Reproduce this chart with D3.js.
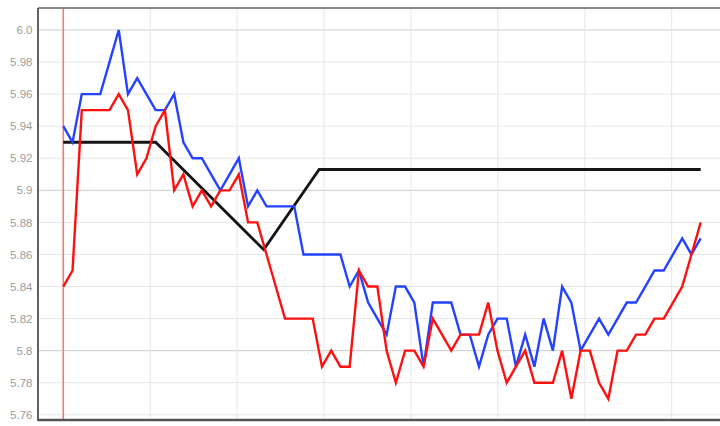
<!DOCTYPE html>
<html>
<head>
<meta charset="utf-8">
<script src="https://cdn.jsdelivr.net/npm/d3@7/dist/d3.min.js"></script>
<style>
    html, body { margin: 0; padding: 0; background: #fff; overflow: hidden; }
    svg { display: block; font-family: "Liberation Sans", Arial, sans-serif; }
    .tick-label { fill: #9c9c9c; font-size: 11.5px; }
</style>
</head>
<body>
<svg id="chart"></svg>
<script>
// values, one point per step
const blueSeries = [
    5.94, 5.93, 5.96, 5.96, 5.96, 5.98, 6.00, 5.96, 5.97, 5.96,
    5.95, 5.95, 5.96, 5.93, 5.92, 5.92, 5.91, 5.90, 5.91, 5.92,
    5.89, 5.90, 5.89, 5.89, 5.89, 5.89, 5.86, 5.86, 5.86, 5.86,
    5.86, 5.84, 5.85, 5.83, 5.82, 5.81, 5.84, 5.84, 5.83, 5.79,
    5.83, 5.83, 5.83, 5.81, 5.81, 5.79, 5.81, 5.82, 5.82, 5.79,
    5.81, 5.79, 5.82, 5.80, 5.84, 5.83, 5.80, 5.81, 5.82, 5.81,
    5.82, 5.83, 5.83, 5.84, 5.85, 5.85, 5.86, 5.87, 5.86, 5.87
];
const redSeries = [
    5.84, 5.85, 5.95, 5.95, 5.95, 5.95, 5.96, 5.95, 5.91, 5.92,
    5.94, 5.95, 5.90, 5.91, 5.89, 5.90, 5.89, 5.90, 5.90, 5.91,
    5.88, 5.88, 5.86, 5.84, 5.82, 5.82, 5.82, 5.82, 5.79, 5.80,
    5.79, 5.79, 5.85, 5.84, 5.84, 5.80, 5.78, 5.80, 5.80, 5.79,
    5.82, 5.81, 5.80, 5.81, 5.81, 5.81, 5.83, 5.80, 5.78, 5.79,
    5.80, 5.78, 5.78, 5.78, 5.80, 5.77, 5.80, 5.80, 5.78, 5.77,
    5.80, 5.80, 5.81, 5.81, 5.82, 5.82, 5.83, 5.84, 5.86, 5.88
];
// black level line only has a few corners
const blackSteps = [0, 10, 21.7, 27.7, 69];
const blackValues = [5.93, 5.93, 5.863, 5.913, 5.913];

const yTickValues = [5.76, 5.78, 5.8, 5.82, 5.84, 5.86, 5.88, 5.9, 5.92, 5.94, 5.96, 5.98, 6.0];
const yTickLabels = ['5.76', '5.78', '5.8', '5.82', '5.84', '5.86', '5.88', '5.9', '5.92', '5.94', '5.96', '5.98', '6.0'];
const yMajor = [5.8, 5.9, 6.0];
const xTickValues = [0, 10, 20, 30, 40, 50, 60, 70];

(function() {
    const width = 720, height = 426;
    const left = 38, top = 8, bottom = 420;

    const svg = d3.select('#chart').attr('width', width).attr('height', height);

    const y = d3.scaleLinear().domain([5.76, 6.0]).range([414.8, 30]);
    const x = d3.scaleLinear().domain([0, blueSeries.length - 1]).range([63.3, 700.7]);
    const xAxisScale = d3.scaleLinear().domain([0, 70]).range([63.3, 671.7]);

    // horizontal grid
    svg.append('g').selectAll('line').data(yTickValues).enter().append('line')
        .attr('x1', left).attr('x2', width)
        .attr('y1', d => y(d)).attr('y2', d => y(d))
        .attr('stroke', d => yMajor.some(m => Math.abs(m - d) < 1e-9) ? '#cccccc' : '#e6e6e6')
        .attr('stroke-width', 1);

    // vertical grid
    svg.append('g').selectAll('line').data(xTickValues.slice(1)).enter().append('line')
        .attr('x1', d => xAxisScale(d)).attr('x2', d => xAxisScale(d))
        .attr('y1', top).attr('y2', bottom)
        .attr('stroke', '#e6e6e6').attr('stroke-width', 1);

    // red marker at zero
    svg.append('line')
        .attr('x1', xAxisScale(0)).attr('x2', xAxisScale(0))
        .attr('y1', top).attr('y2', bottom)
        .attr('stroke', '#f07a7a').attr('stroke-width', 1.6);

    // frame
    svg.append('line').attr('x1', left).attr('x2', width).attr('y1', top).attr('y2', top)
        .attr('stroke', '#8a8a8a').attr('stroke-width', 2);
    svg.append('line').attr('x1', left).attr('x2', left).attr('y1', top).attr('y2', bottom + 1)
        .attr('stroke', '#606060').attr('stroke-width', 2);
    svg.append('line').attr('x1', left).attr('x2', width).attr('y1', bottom).attr('y2', bottom)
        .attr('stroke', '#555').attr('stroke-width', 2.5);

    // y labels
    svg.append('g').selectAll('text').data(yTickValues).enter().append('text')
        .attr('class', 'tick-label')
        .attr('x', 32.5).attr('y', d => y(d)).attr('dy', '0.36em')
        .attr('text-anchor', 'end')
        .text((d, i) => yTickLabels[i]);

    // x labels: the reference only shows their tops at the bottom edge
    svg.append('g').selectAll('text').data(xTickValues).enter().append('text')
        .attr('class', 'tick-label')
        .attr('x', d => xAxisScale(d)).attr('y', 434)
        .attr('text-anchor', 'middle')
        .text(d => d);

    const line = d3.line().x((d, i) => x(i)).y(d => y(d));
    const blackLine = d3.line().x(d => x(d[0])).y(d => y(d[1]));

    svg.append('path')
        .datum(blackSteps.map((s, i) => [s, blackValues[i]]))
        .attr('d', blackLine)
        .attr('fill', 'none').attr('stroke', '#151515').attr('stroke-width', 2.8);

    svg.append('path').datum(blueSeries).attr('d', line)
        .attr('fill', 'none').attr('stroke', '#2442ff').attr('stroke-width', 2.4);

    svg.append('path').datum(redSeries).attr('d', line)
        .attr('fill', 'none').attr('stroke', '#ff1010').attr('stroke-width', 2.4);
})();
</script>
</body>
</html>
